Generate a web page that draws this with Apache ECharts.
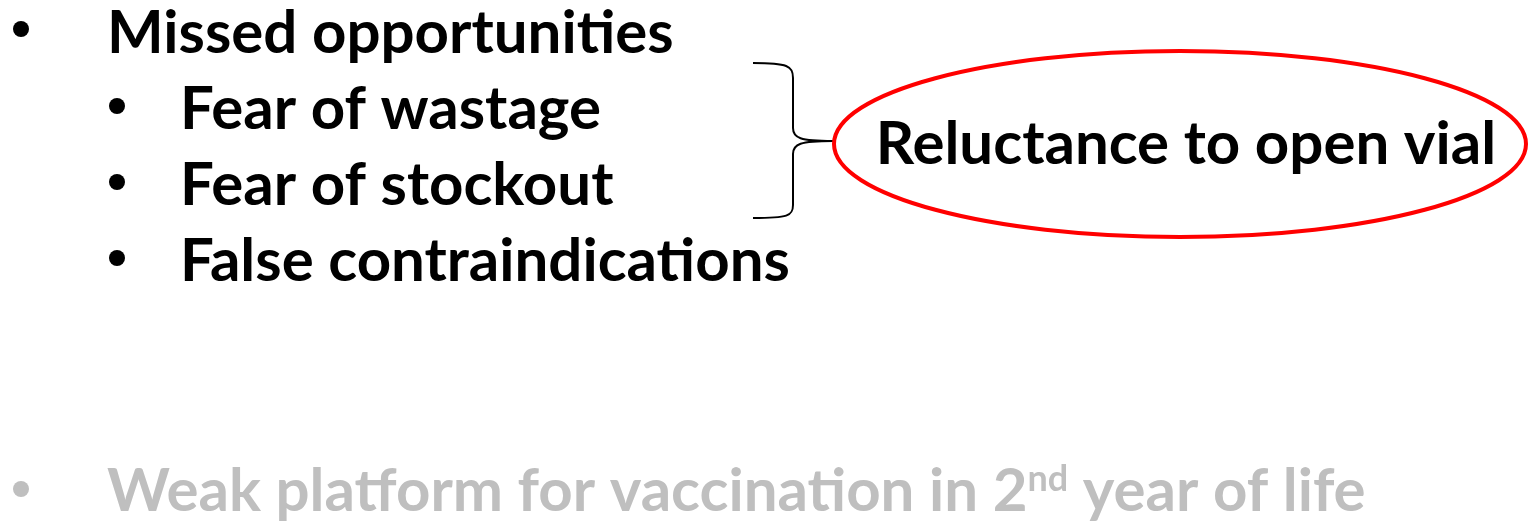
<!DOCTYPE html>
<html>
<head>
<meta charset="utf-8">
<script src="https://cdn.jsdelivr.net/npm/echarts@6/dist/echarts.min.js"></script>
<style>
  html, body { margin: 0; padding: 0; background: #fff; }
  #main { width: 1529px; height: 522px; }
</style>
</head>
<body>
<div id="main"></div>
<script>
// slide content
let mainItem = 'Missed opportunities';
let subItems = ['Fear of wastage', 'Fear of stockout', 'False contraindications'];
let calloutText = 'Reluctance to open vial';
let greyItem = ['Weak platform for vaccination in 2', 'nd', ' year of life'];

const FONT = 'Lato, "Open Sans", sans-serif';
const SIZE = 60;

let elements = [];

function bullet(x, y, color) {
    return { type: 'circle', shape: { cx: x, cy: y, r: 8 }, style: { fill: color } };
}
function label(txt, x, y, color) {
    return {
        type: 'text', x: x, y: y,
        style: { text: txt, fill: color, font: 'bold ' + SIZE + 'px ' + FONT, verticalAlign: 'middle', align: 'left' }
    };
}
function curve(x1, y1, c1x, c1y, c2x, c2y, x2, y2) {
    return {
        type: 'bezierCurve',
        shape: { x1: x1, y1: y1, cpx1: c1x, cpy1: c1y, cpx2: c2x, cpy2: c2y, x2: x2, y2: y2 },
        style: { fill: 'none', stroke: '#000', lineWidth: 2 }
    };
}
function seg(x1, y1, x2, y2) {
    return { type: 'line', shape: { x1: x1, y1: y1, x2: x2, y2: y2 }, style: { stroke: '#000', lineWidth: 2 } };
}

// top level bullet
elements.push(bullet(21, 29, '#000'));
elements.push(label(mainItem, 107, 34, '#000'));

// sub bullets
subItems.forEach(function (s, i) {
    let y = 110 + i * 76;
    elements.push(bullet(117, y - 4, '#000'));
    elements.push(label(s, 180, y, '#000'));
});

// brace
elements.push(curve(753, 63, 788, 63, 793, 66, 793, 78));
elements.push(seg(793, 78, 793, 128));
elements.push(curve(793, 128, 793, 138, 800, 141, 833, 141));
elements.push(curve(833, 141, 800, 141, 793, 144, 793, 154));
elements.push(seg(793, 154, 793, 205));
elements.push(curve(793, 205, 793, 216, 788, 218, 753, 218));

// callout ellipse
elements.push({
    type: 'ellipse',
    shape: { cx: 1180, cy: 144, rx: 346, ry: 93 },
    style: { fill: 'none', stroke: '#ff0000', lineWidth: 4 }
});
elements.push({
    type: 'text', x: 1186, y: 145,
    style: { text: calloutText, fill: '#000', font: 'bold ' + SIZE + 'px ' + FONT, verticalAlign: 'middle', align: 'center' }
});

// grey bullet
elements.push(bullet(21, 489, '#bfbfbf'));
elements.push({
    type: 'text', x: 107, y: 492,
    style: {
        text: '{a|' + greyItem[0] + '}{s|' + greyItem[1] + '}{a|' + greyItem[2] + '}',
        verticalAlign: 'middle', align: 'left',
        rich: {
            a: { fill: '#bfbfbf', fontWeight: 'bold', fontSize: SIZE, fontFamily: FONT, lineHeight: 62 },
            s: { fill: '#bfbfbf', fontWeight: 'bold', fontSize: 36, fontFamily: FONT, lineHeight: 62, verticalAlign: 'top' }
        }
    }
});

let chart = echarts.init(document.getElementById('main'), null, { renderer: 'canvas' });
chart.setOption({
    backgroundColor: '#ffffff',
    graphic: { elements: elements }
});
</script>
</body>
</html>
